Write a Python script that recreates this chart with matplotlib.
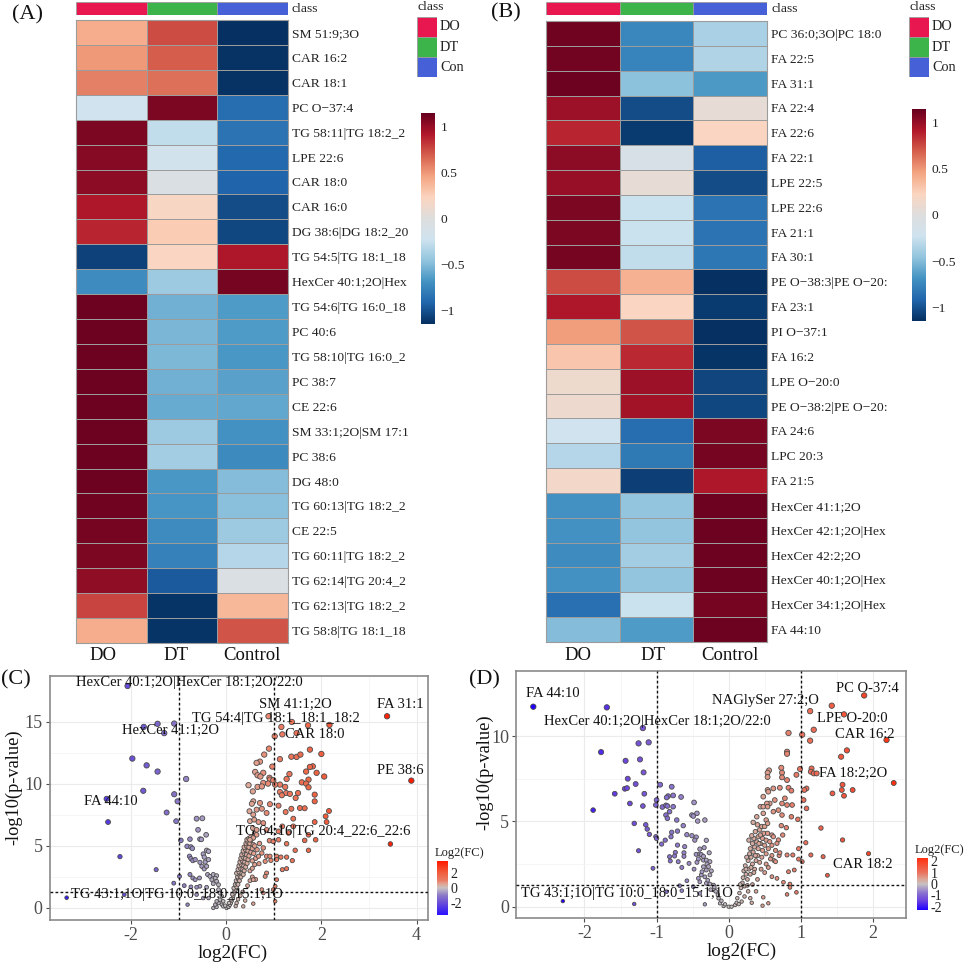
import numpy as np
import matplotlib
matplotlib.use('Agg')
import matplotlib.pyplot as plt
from matplotlib.colors import LinearSegmentedColormap, Normalize
from matplotlib.patches import Rectangle

plt.rcParams['font.family'] = ['Liberation Serif', 'DejaVu Sans']

W, H = 969, 964

groups = ['DO', 'DT', 'Control']
class_names = ['DO', 'DT', 'Con']
class_colors = ['#E8174F', '#3CB44A', '#4660D8']

a_labels = ['SM 51:9;3O', 'CAR 16:2', 'CAR 18:1', 'PC O\u221237:4', 'TG 58:11|TG 18:2_2', 'LPE 22:6',
            'CAR 18:0', 'CAR 16:0', 'DG 38:6|DG 18:2_20', 'TG 54:5|TG 18:1_18', 'HexCer 40:1;2O|Hex',
            'TG 54:6|TG 16:0_18', 'PC 40:6', 'TG 58:10|TG 16:0_2', 'PC 38:7', 'CE 22:6',
            'SM 33:1;2O|SM 17:1', 'PC 38:6', 'DG 48:0', 'TG 60:13|TG 18:2_2', 'CE 22:5',
            'TG 60:11|TG 18:2_2', 'TG 62:14|TG 20:4_2', 'TG 62:13|TG 18:2_2', 'TG 58:8|TG 18:1_18']
a_do = [.42, .5, .58, -.22, 1.08, 1.05, 1.03, .93, .88, -1.07, -.72, 1.13, 1.13, 1.13, 1.13, 1.13, 1.13, 1.13,
        1.13, 1.12, 1.1, 1.08, 1.02, .78, .42]
a_dt = [.75, .7, .63, 1.08, -.28, -.2, -.07, .2, .27, .22, -.42, -.55, -.53, -.52, -.55, -.58, -.42, -.4,
        -.67, -.68, -.72, -.78, -.97, -1.13, -1.13]
a_con = [-1.15, -1.14, -1.14, -.88, -.85, -.9, -.92, -1.03, -1.05, .93, 1.1, -.65, -.65, -.67, -.62, -.6, -.7, -.73,
         -.5, -.48, -.42, -.33, -.07, .37, .72]

b_labels = ['PC 36:0;3O|PC 18:0', 'FA 22:5', 'FA 31:1', 'FA 22:4', 'FA 22:6', 'FA 22:1', 'LPE 22:5', 'LPE 22:6',
            'FA 21:1', 'FA 30:1', 'PE O\u221238:3|PE O\u221220:', 'FA 23:1', 'PI O\u221237:1', 'FA 16:2', 'LPE O\u221220:0',
            'PE O\u221238:2|PE O\u221220:', 'FA 24:6', 'LPC 20:3', 'FA 21:5', 'HexCer 41:1;2O', 'HexCer 42:1;2O|Hex',
            'HexCer 42:2;2O', 'HexCer 40:1;2O|Hex', 'HexCer 34:1;2O|Hex', 'FA 44:10']
b_do = [1.12, 1.11, 1.13, .98, .88, 1.03, 1.0, 1.08, 1.08, 1.1, .75, .93, .48, .3, .13, .12, -.22, -.33, .17,
        -.7, -.7, -.72, -.7, -.87, -.5]
b_dt = [-.75, -.77, -.47, -1.03, -1.1, -.1, .07, -.25, -.25, -.28, .4, .22, .72, .87, .98, .97, -.88, -.82, -1.08,
        -.45, -.45, -.4, -.45, -.25, -.65]
b_con = [-.37, -.35, -.66, .07, .22, -.95, -1.03, -.85, -.85, -.83, -1.15, -1.1, -1.16, -1.13, -1.06, -1.05,
         1.08, 1.1, .93, 1.13, 1.13, 1.13, 1.13, 1.1, 1.13]

# volcano C (log2FC, -log10 p)
c_left = [(-2.07, 17.9), (-1.73, 14.6), (-1.44, 14.85), (-1.09, 14.87), (-1.3, 14.1), (-1.97, 12.05), (-1.67, 11.5),
          (-1.44, 11.0), (-.84, 10.4), (-1.74, 9.45), (-2.51, 8.8), (-1.09, 9.17), (-1.02, 8.6), (-1.25, 7.7),
          (-2.48, 6.93), (-1.05, 7.0), (-.62, 7.2), (-.5, 7.23), (-.59, 6.3), (-.42, 5.9), (-.55, 5.55), (-.52, 5.53),
          (-.76, 5.55), (-.95, 5.45), (-.82, 4.97), (-.74, 4.92), (-.71, 4.8), (-.41, 4.65), (-.37, 4.57),
          (-2.23, 4.14), (-.77, 4.17), (-.74, 3.98), (-.7, 3.82), (-.48, 4.35), (-.46, 4.1), (-.65, 3.9), (-.55, 3.68),
          (-.44, 3.7), (-.37, 3.9), (-.51, 3.36), (-.46, 3.15), (-.41, 3.36), (-1.47, 3.09), (-.98, 2.55), (-.76, 2.7),
          (-.7, 2.42), (-.56, 2.42), (-.65, 2.28), (-.39, 2.7), (-.34, 2.55), (-.27, 2.7), (-.2, 2.6), (-.23, 2.4),
          (-.3, 2.28), (-.2, 2.15), (-.27, 1.96), (-.16, 1.88), (-1.1, 2.0), (-.88, 1.8), (-.74, 1.7), (-.62, 1.67),
          (-.55, 1.75), (-.41, 1.67), (-2.14, 1.07), (-3.35, .83), (-.81, .27), (-.62, 1.08), (-.48, .8), (-.37, .8),
          (-.27, 0.), (-.2, .08), (-.16, .4), (-.09, .27), (-.13, .67), (-.06, .13), (.01, 0.), (.05, .08), (-.02, .19),
          (-.23, .27), (-.2, .54), (-.13, 1.2), (-.16, 1.48), (-.09, .94), (-.06, .54)]
c_band = [(.05, .1), (.08, .25), (.1, .4), (.12, .6), (.14, .8), (.15, 1.0), (.17, 1.2), (.1, .7), (.06, .4), (.13, 1.1),
          (.18, 1.4), (.2, 1.5), (.16, 1.6), (.22, 1.7), (.19, 1.9), (.23, 2.0), (.25, 1.9), (.21, 2.2), (.26, 2.3),
          (.28, 2.2), (.24, 2.5), (.29, 2.6), (.31, 2.5), (.22, 2.8), (.27, 2.9), (.33, 2.8), (.36, 2.7), (.25, 3.1),
          (.3, 3.2), (.35, 3.1), (.38, 3.0), (.27, 3.4), (.32, 3.5), (.37, 3.4), (.41, 3.3), (.29, 3.7), (.34, 3.8),
          (.39, 3.7), (.44, 3.6), (.31, 4.0), (.36, 4.1), (.41, 4.0), (.46, 3.9), (.33, 4.3), (.38, 4.4), (.43, 4.3),
          (.48, 4.2), (.36, 4.6), (.41, 4.7), (.46, 4.6), (.52, 4.5), (.38, 4.9), (.43, 5.0), (.48, 4.9), (.55, 4.8),
          (.42, 5.2), (.46, 5.3), (.5, 5.2), (.57, 5.1), (.44, 5.5), (.48, 5.6), (.52, 5.5), (.5, 3.0), (.55, 3.2),
          (.6, 3.5), (.55, 3.8), (.62, 4.0), (.58, 4.4), (.65, 4.7), (.6, 5.0), (.7, 5.2), (.55, 2.5), (.62, 2.3),
          (.5, 2.2), (.45, 1.8), (.35, 1.3), (.3, 1.0), (.25, .7), (.22, .4), (.2, .15), (.4, .6), (.52, 5.7), (.6, 6.0)]
c_right = [(3.38, 15.46), (3.89, 10.27), (3.45, 5.16), (2.17, 14.76), (1.38, 15.0), (1.16, 14.6), (.89, 15.46),
           (1.72, 14.73), (1.48, 14.1), (1.18, 14.0), (1.02, 13.85), (.9, 12.85), (1.76, 12.77), (2.0, 12.42),
           (.8, 12.37), (1.37, 12.2), (1.48, 12.18), (1.56, 12.37), (1.13, 12.0), (.71, 11.8), (.64, 11.7), (.97, 11.4),
           (1.82, 11.42), (1.76, 11.37), (.61, 10.97), (.78, 10.9), (1.68, 11.), (1.9, 10.9), (1.33, 10.8), (.66, 10.7),
           (.72, 10.6), (.91, 10.5), (1.27, 10.4), (2.06, 10.6), (1.73, 10.35), (.92, 10.35), (.99, 10.3), (1.59, 10.13),
           (.47, 9.9), (.78, 10.08), (.88, 10.03), (1.13, 9.95), (1.03, 9.95), (1.68, 10.03), (1.73, 9.73), (1.24, 9.76),
           (.66, 9.76), (.75, 9.8), (.56, 9.4), (1.51, 9.27), (1.13, 9.35), (1.26, 9.27), (1.34, 9.2), (1.17, 9.09),
           (1.46, 8.87), (1.86, 9.14), (1.86, 8.6), (.57, 8.6), (.71, 8.47), (.54, 8.4), (.92, 8.37), (1.1, 8.25),
           (1.37, 8.0), (1.55, 8.06), (1.65, 8.04), (.49, 7.8), (.64, 7.93), (.75, 8.0), (.85, 7.66), (.57, 7.53),
           (1.25, 7.74), (2.16, 7.82), (2.09, 7.39), (1.41, 7.2), (.5, 7.), (.59, 7.12), (.68, 6.93), (.78, 6.85),
           (1.86, 6.93), (2.11, 6.93), (1.18, 6.58), (1.41, 6.58), (.56, 6.45), (.64, 6.3), (.85, 6.3), (1.1, 6.18),
           (1.73, 5.9), (1.31, 6.05), (.64, 5.9), (.57, 5.65), (.5, 5.5), (.91, 5.43), (.99, 5.37), (1.1, 5.5),
           (1.65, 5.45), (1.88, 5.5), (1.27, 5.18), (.78, 4.84), (1.45, 4.65), (1.73, 4.65), (.75, 4.43), (.68, 4.17),
           (.85, 4.17), (.92, 4.17), (1.06, 4.17), (1.15, 4.1), (1.27, 4.1), (1.06, 3.9), (.94, 3.84), (1.39, 3.82),
           (.82, 3.76), (.69, 3.57), (1.27, 3.17), (1.18, 3.09), (.85, 2.82), (.82, 2.55), (.57, 2.28), (1.06, 2.28),
           (1.03, 1.75), (.75, 1.48), (.99, 1.48), (.78, 1.21), (.57, .35), (.36, .13), (1.03, .54)]

# volcano D
d_left = [(-2.71, 11.72), (-1.69, 11.68), (-1.19, 10.47), (-1.25, 9.57), (-1.11, 9.63), (-1.77, 9.06), (-1.23, 8.63),
          (-1.43, 8.55), (-1.18, 7.87), (-1.4, 7.5), (-1.29, 7.19), (-1.44, 6.91), (-1.41, 6.95), (-1.58, 6.62),
          (-1.17, 6.62), (-.95, 7.15), (-.79, 7.03), (-.77, 6.52), (-.84, 6.48), (-.86, 6.4), (-.66, 6.43), (-1.0, 6.25),
          (-1.37, 6.05), (-1.01, 5.96), (-1.19, 5.9), (-.92, 5.84), (-.87, 5.94), (-.85, 5.9), (-.77, 5.86), (-.48, 6.11),
          (-1.88, 5.66), (-.82, 5.57), (-.87, 5.37), (-.85, 5.18), (-.72, 5.08), (-.51, 5.37), (-.44, 5.47), (-.49, 5.31),
          (-.33, 5.08), (-.43, 5.02), (-1.31, 4.88), (-1.15, 4.8), (-.63, 4.75), (-1.13, 4.55), (-1.1, 4.24), (-.79, 4.36),
          (-.71, 4.43), (-.58, 4.22), (-.51, 4.16), (-.45, 4.08), (-1.01, 4.1), (-1.0, 4.0), (-.8, 4.1), (-.88, 3.9),
          (-.93, 3.67), (-.47, 3.9), (-.31, 3.89), (-.71, 3.61), (-.61, 3.52), (-.34, 3.46), (-1.25, 3.28), (-.4, 3.38),
          (-.74, 3.18), (-.62, 3.16), (-.45, 3.07), (-.4, 3.09), (-.27, 3.16), (-.82, 2.93), (-.75, 2.97), (-.62, 2.95),
          (-.81, 2.68), (-.7, 2.64), (-.55, 2.54), (-.44, 2.6), (-.35, 2.73), (-.31, 2.73), (-.26, 2.64), (-.65, 2.3),
          (-.48, 2.2), (-.35, 2.34), (-1.05, 2.25), (-.31, 2.15), (-.24, 2.1), (-.38, 1.86), (-.42, 1.66), (-.26, 1.86),
          (-.4, 1.46), (-.58, 1.52), (-.68, 1.23), (-.31, 1.37), (-.26, 1.33), (-.21, 1.27), (-.49, 1.17), (-.86, .88),
          (-2.3, .33), (-1.31, .16), (-.65, .94), (-.4, .78), (-.33, .14), (-.21, .98), (-.12, .2), (-.07, .04), (0., 0.),
          (-.14, .49), (-.1, .35), (-.05, .14), (.04, 0.), (.09, .1), (.11, .23), (-.38, 3.05), (-.35, 2.95), (-.42, 2.8),
          (-.3, 2.5), (-.28, 2.35), (-.37, 2.05), (-.33, 1.75), (-.29, 1.55), (-.2, 1.15), (-.18, .9), (-.15, .7), (-.25, 1.0)]
d_right = [(1.88, 12.38), (1.43, 11.78), (1.13, 11.46), (1.6, 11.27), (1.18, 10.37), (.83, 10.18), (1.02, 10.08),
           (2.19, 9.77), (1.13, 9.73), (1.64, 9.16), (.81, 9.08), (.81, 8.96), (1.56, 8.79), (.99, 8.07), (.73, 8.14),
           (.56, 7.99), (.74, 7.85), (.54, 7.85), (.54, 7.6), (1.15, 8.1), (1.14, 7.91), (1.18, 7.81), (1.22, 7.81),
           (.94, 7.73), (.74, 7.58), (.81, 7.42), (2.29, 7.25), (1.58, 7.15), (1.57, 6.84), (1.72, 6.84), (1.44, 6.64),
           (1.6, 6.5), (1.08, 6.93), (1.05, 6.84), (.83, 6.97), (.87, 6.8), (.71, 6.97), (.62, 6.93), (.54, 6.84),
           (.48, 6.45), (.55, 6.74), (1.04, 6.25), (1.08, 5.76), (.78, 6.35), (.74, 6.05), (.81, 5.96), (.88, 5.96),
           (.64, 6.25), (.57, 6.05), (.53, 6.05), (.44, 5.86), (.48, 5.86), (.54, 5.86), (.62, 5.57), (.69, 5.66),
           (.74, 5.37), (.87, 5.27), (.96, 5.12), (.39, 5.27), (.34, 4.94), (.48, 5.47), (.52, 5.08), (.54, 4.88),
           (.73, 4.75), (.8, 4.63), (1.28, 4.61), (.6, 4.2), (.75, 4.2), (.62, 4.1), (.32, 4.16), (.44, 4.2), (1.58, 3.91),
           (1.07, 3.75), (.69, 3.91), (.67, 3.71), (.57, 3.81), (.97, 3.4), (.71, 3.16), (.81, 3.03), (.89, 3.03),
           (1.14, 3.03), (1.31, 2.93), (1.94, 3.11), (.97, 2.79), (1.02, 2.64), (.65, 2.64), (.83, 2.05), (.91, 2.15),
           (.6, 1.76), (.67, 1.66), (1.37, 1.84), (.76, 1.43), (.85, 1.33), (.85, 1.13), (.81, .72), (.94, .84), (.48, .55),
           (.55, .2), (.47, .06), (.32, .23)]
d_band = [(.12, .5), (.15, .8), (.17, 1.1), (.19, 1.4), (.16, 1.3), (.2, 1.7), (.22, 1.2), (.24, 1.9), (.21, 2.1), (.26, 1.6),
          (.28, 2.2), (.23, 2.4), (.3, 1.9), (.33, 2.5), (.27, 2.7), (.25, 2.9), (.31, 2.9), (.36, 2.2), (.38, 2.7), (.29, 3.1),
          (.34, 3.2), (.4, 3.0), (.43, 2.6), (.46, 2.9), (.3, 3.4), (.36, 3.5), (.41, 3.4), (.47, 3.3), (.52, 3.1), (.33, 3.7),
          (.39, 3.8), (.44, 3.7), (.5, 3.6), (.55, 3.4), (.35, 4.0), (.41, 4.1), (.47, 4.0), (.52, 3.9), (.28, 3.9), (.37, 4.4),
          (.43, 4.5), (.49, 4.3), (.54, 4.3), (.6, 3.0), (.63, 2.7), (.55, 2.3), (.5, 2.0), (.4, 1.6), (.33, 1.3), (.27, .9),
          (.22, .6), (.18, .3), (.14, .15), (.3, .5), (.38, .9), (.26, 1.25), (.35, 2.0), (.45, 2.2), (.58, 2.8), (.6, 3.6),
          (.65, 3.3), (.7, 3.0), (.52, 2.5), (.24, 2.2), (.31, 2.3), (.37, 3.0), (.42, 3.7), (.46, 4.7), (.4, 4.8), (.5, 4.7)]

c_xlim, c_ylim = (-3.71, 4.24), (-.97, 18.73)
d_xlim, d_ylim = (-2.95, 2.46), (-.68, 13.83)

c_texts = [('HexCer 40:1;2O|HexCer 18:1;2O/22:0', -3.15, 18.15), ('SM 41:1;2O', .68, 16.4), ('FA 31:1', 3.17, 16.4),
           ('TG 54:4|TG 18:1_18:1_18:2', -.71, 15.3), ('HexCer 41:1;2O', -2.19, 14.3), ('CAR 18:0', 1.23, 14.0),
           ('PE 38:6', 3.17, 11.07), ('FA 44:10', -2.98, 8.58), ('TG 64:16|TG 20:4_22:6_22:6', .21, 6.16),
           ('TG 43:1;1O|TG 10:0_18:0_15:1;1O', -3.26, 1.05)]
d_texts = [('FA 44:10', -2.81, 12.5), ('PC O-37:4', 1.49, 12.81), ('NAGlySer 27:2;O', -.23, 12.07),
           ('HexCer 40:1;2O|HexCer 18:1;2O/22:0', -2.56, 10.88), ('LPE O-20:0', 1.23, 11.03), ('CAR 16:2', 1.47, 10.12),
           ('FA 18:2;2O', 1.26, 7.81), ('CAR 18:2', 1.45, 2.48), ('TG 43:1;1O|TG 10:0_18:0_15:1;1O', -2.88, .78)]

heat_cmap = LinearSegmentedColormap.from_list('heat', ['#053061', '#2166ac', '#4393c3', '#92c5de', '#cfe3ef', '#dedede',
                                                       '#fbd5c0', '#f4a582', '#d6604d', '#b2182b', '#67001f'])

fig = plt.figure(figsize=(W / 100, H / 100), dpi=100)


def px_axes(left, top, right, bottom):
    return fig.add_axes([left / W, 1 - bottom / H, (right - left) / W, (bottom - top) / H])


def heat_panel(box, values, labels, legend_x, cbar_box, group_x):
    left, top, right, bottom = box
    ax = px_axes(left, top, right, bottom)
    ax.pcolormesh(np.array(values), cmap=heat_cmap, vmin=-1.15, vmax=1.15, edgecolors='#9c9c9c', linewidth=0.45)
    ax.set_ylim(len(labels), 0)
    ax.set_xticks([])
    ax.yaxis.tick_right()
    ax.set_yticks(np.arange(len(labels)) + 0.5)
    ax.set_yticklabels(labels, fontsize=9.7, color='#222222')
    ax.tick_params(axis='y', length=0, pad=3)
    for s in ax.spines.values():
        s.set_color('#9c9c9c')
    for g, gx in zip(groups, group_x):
        fig.text(gx / W, 1 - 655 / H, g, fontsize=13.5, ha='center', va='center', color='#111111')

    bar = px_axes(left, 2, right, 15)
    bar.set_xlim(0, 3)
    bar.set_ylim(0, 1)
    bar.axis('off')
    for i, c in enumerate(class_colors):
        bar.add_patch(Rectangle((i, 0), 1, 1, facecolor=c, edgecolor='#9c9c9c', lw=0.6))
    fig.text((right + 4) / W, 1 - 9.5 / H, 'class', fontsize=9.7, va='center', color='#222222')

    leg = px_axes(legend_x, 17, legend_x + 20, 77)
    leg.set_xlim(0, 1)
    leg.set_ylim(3, 0)
    leg.axis('off')
    for i, c in enumerate(class_colors):
        leg.add_patch(Rectangle((0, i), 1, 1, facecolor=c, edgecolor='#9c9c9c', lw=0.6))
        fig.text((legend_x + 23) / W, 1 - (27 + 20.3 * i) / H, class_names[i], fontsize=10.3, va='center', color='#222222')
    fig.text(legend_x / W, 1 - 7.5 / H, 'class', fontsize=9.7, va='center', color='#222222')

    cax = px_axes(*cbar_box)
    grad = np.linspace(1.15, -1.15, 256).reshape(-1, 1)
    cax.imshow(grad, aspect='auto', cmap=heat_cmap, vmin=-1.15, vmax=1.15, extent=[0, 1, -1.15, 1.15])
    cax.set_xticks([])
    cax.yaxis.tick_right()
    cax.set_yticks([-1, -.5, 0, .5, 1])
    cax.set_yticklabels(['\u22121', '\u22120.5', '0', '0.5', '1'], fontsize=9.7, color='#222222')
    cax.tick_params(axis='y', length=0, pad=4)
    for s in cax.spines.values():
        s.set_visible(False)


def volcano_panel(box, points, xlim, ylim, xticks, yticks, texts, cnodes, cbar_box, cbar_ticks, xlab_px, ylab_px):
    ax = px_axes(*box)
    x = np.array([p[0] for p in points])
    y = np.array([p[1] for p in points])
    lo, hi = cnodes[0][0], cnodes[-1][0]
    cmap = LinearSegmentedColormap.from_list('fc', [((v - lo) / (hi - lo), c) for v, c in cnodes])
    norm = Normalize(lo, hi)
    sizes = np.clip(6 + y * 0.9, 6, 15)
    ax.scatter(x, y, s=sizes, c=x, cmap=cmap, norm=norm, edgecolors='#4a4a4a', linewidths=0.6, zorder=3)
    ax.axhline(1.3, color='#111111', ls=(0, (2, 1.6)), lw=1.0, zorder=4)
    for v in (-1, 1):
        ax.axvline(v, color='#111111', ls=(0, (2, 1.6)), lw=1.0, zorder=4)
    ax.set_xlim(*xlim)
    ax.set_ylim(*ylim)
    ax.set_xticks(xticks)
    ax.set_xticklabels([str(t) for t in xticks])
    ax.set_yticks(yticks)
    ax.set_xticks((np.array(xticks[:-1]) + np.array(xticks[1:])) / 2, minor=True)
    ax.set_yticks((np.array(yticks[:-1]) + np.array(yticks[1:])) / 2, minor=True)
    ax.grid(True, which='major', color='#ebebeb', lw=0.8)
    ax.grid(True, which='minor', color='#f3f3f3', lw=0.5)
    ax.set_axisbelow(True)
    ax.tick_params(which='minor', length=0)
    ax.tick_params(which='major', labelsize=13, labelcolor='#4d4d4d', color='#4d4d4d', length=3, pad=2)
    for s in ax.spines.values():
        s.set_color('#8a8a8a')
        s.set_linewidth(1.2)
    for t, tx, ty in texts:
        ax.text(tx, ty, t, fontsize=10.5, ha='left', va='center', color='#111111', zorder=5)
    fig.text(xlab_px[0] / W, 1 - xlab_px[1] / H, 'log2(FC)', fontsize=13.8, ha='center', va='center', color='#111111')
    fig.text(ylab_px[0] / W, 1 - ylab_px[1] / H, '-log10(p-value)', fontsize=13.2, rotation=90, ha='center',
             va='center', color='#111111')

    cax = px_axes(*cbar_box)
    grad = np.linspace(hi, lo, 256).reshape(-1, 1)
    cax.imshow(grad, aspect='auto', cmap=cmap, norm=norm, extent=[0, 1, lo, hi])
    cax.set_xticks([])
    cax.yaxis.tick_right()
    cax.set_yticks(cbar_ticks)
    cax.set_yticklabels([str(t) for t in cbar_ticks], fontsize=10, color='#222222')
    cax.tick_params(axis='y', length=0, pad=2)
    for s in cax.spines.values():
        s.set_visible(False)
    fig.text(cbar_box[0] / W - 0.002, 1 - (cbar_box[1] - 8) / H, 'Log2(FC)', fontsize=9, va='center', color='#222222')


heat_panel((76, 20, 288, 643), list(zip(a_do, a_dt, a_con)), a_labels, 417, (421, 113, 435, 324), (103, 176, 252))
heat_panel((546, 21, 767, 642), list(zip(b_do, b_dt, b_con)), b_labels, 909, (912, 109, 926, 321), (578, 653, 730))

volcano_panel((49.5, 675.7, 428, 920), c_left + c_band + c_right, c_xlim, c_ylim, [-2, 0, 2, 4], [0, 5, 10, 15],
              c_texts,
              [(-3.6, '#2a10ff'), (-2, '#6a4fd8'), (-1, '#8a78c8'), (0, '#c8c2c2'), (.5, '#dfa898'), (1, '#ea7f68'),
               (2, '#f0603f'), (3.6, '#ff1a00')],
              (437, 861, 448, 915), [-2, 0, 2], (233, 953), (14, 787))
volcano_panel((516, 670.7, 906, 918.3), d_left + d_band + d_right, d_xlim, d_ylim, [-2, -1, 0, 1, 2], [0, 5, 10],
              d_texts,
              [(-2.3, '#1f00ff'), (-1.5, '#6a40e0'), (-.8, '#8a72d0'), (0, '#c8c2c2'), (.5, '#dfa090'), (1, '#ea7460'),
               (2.3, '#ff3010')],
              (917, 858, 928, 910), [-2, -1, 0, 1, 2], (742, 951), (485, 772))

for label, lx, ly in [('(A)', 12, 15), ('(B)', 491, 13), ('(C)', 1, 680), ('(D)', 469, 680)]:
    fig.text(lx / W, 1 - ly / H, label, fontsize=16, va='center', color='#111111')

fig.savefig('out.png', dpi=100)
